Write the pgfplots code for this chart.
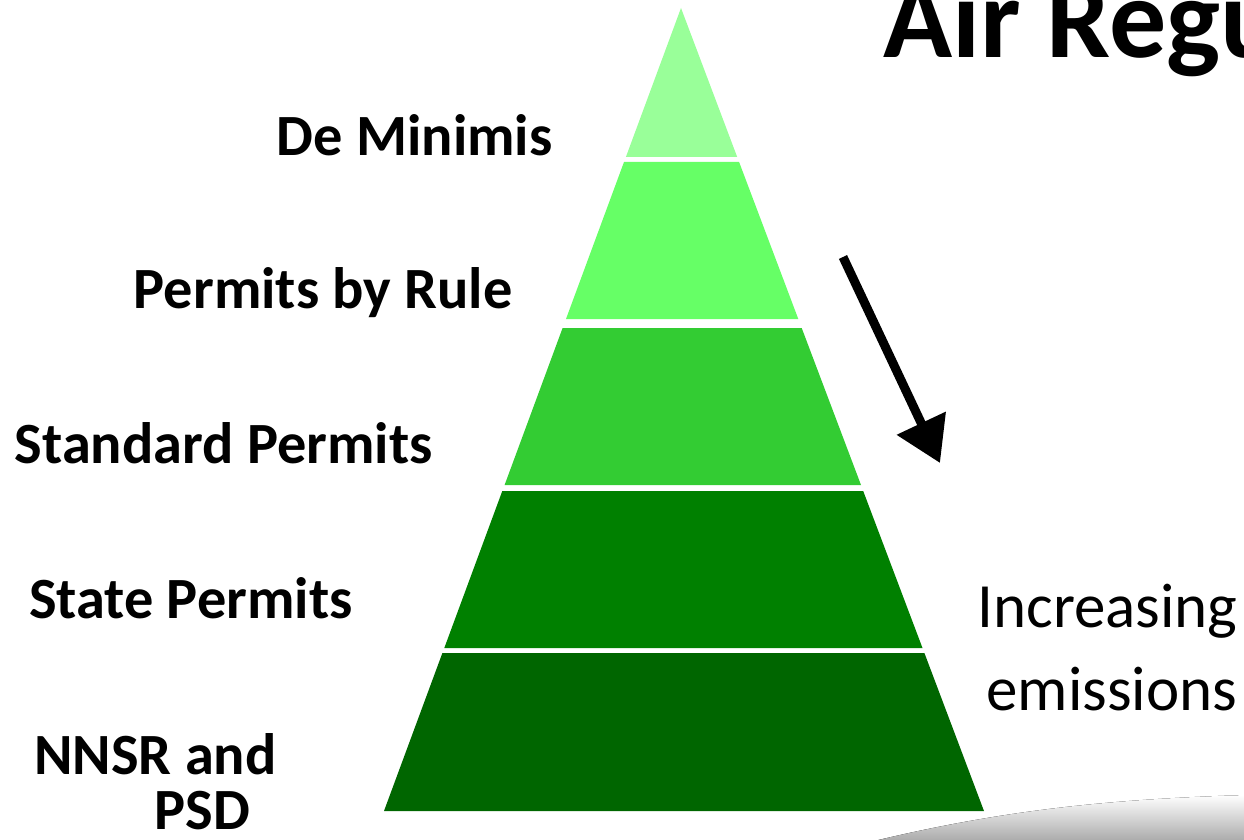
\documentclass[border=0pt]{standalone}
\usepackage{pgfplots}
\pgfplotsset{compat=1.18}
\usetikzlibrary{arrows.meta}
\usepackage{fontspec}
\setmainfont{Carlito}
\definecolor{b1}{HTML}{99FF99}
\definecolor{b2}{HTML}{66FF66}
\definecolor{b3}{HTML}{33CC33}
\definecolor{b4}{HTML}{008000}
\definecolor{b5}{HTML}{006600}
\begin{document}
\begin{tikzpicture}
\useasboundingbox (0,0) rectangle (622pt,420pt);
\clip (0,0) rectangle (622pt,420pt);
\begin{axis}[at={(0,0)}, anchor=south west, width=622pt, height=420pt, scale only axis,
  xmin=0, xmax=1244, ymin=0, ymax=840, y dir=reverse, hide axis, clip=false]
% gray swoosh bottom right
\fill[top color=white, bottom color=black!34, draw=none]
  (axis cs:870,842) .. controls (axis cs:1010,808) and (axis cs:1120,799) .. (axis cs:1246,795) -- (axis cs:1246,842) -- cycle;
% pyramid bands
\addplot[fill=b1, draw=none] coordinates {(681,8) (737.2,157) (625.9,157)} -- cycle;
\addplot[fill=b2, draw=none] coordinates {(624.0,162) (739.1,162) (798.3,319) (566.0,319)} -- cycle;
\addplot[fill=b3, draw=none] coordinates {(562.6,328) (801.7,328) (861.0,485) (504.6,485)} -- cycle;
\addplot[fill=b4, draw=none] coordinates {(502.3,491) (863.2,491) (922.5,648) (444.3,648)} -- cycle;
\addplot[fill=b5, draw=none] coordinates {(442.4,653) (924.4,653) (984,811) (384,811)} -- cycle;
% arrow
\addplot[black, line width=4.5pt, -{Triangle[length=22pt, width=26pt]}] coordinates {(843,257) (940,463)};
% labels
\begin{scope}[every node/.style={inner sep=0pt, font=\fontsize{29.2}{34}\selectfont\bfseries}]
\node[anchor=base east] at (axis cs:553,156) {De Minimis};
\node[anchor=base east] at (axis cs:513,308) {Permits by Rule};
\node[anchor=base east] at (axis cs:433,463) {Standard Permits};
\node[anchor=base east] at (axis cs:353,618) {State Permits};
\node[anchor=base west] at (axis cs:34,774) {NNSR and};
\node[anchor=base west] at (axis cs:154,829) {PSD};
\end{scope}
\node[anchor=base west, inner sep=0pt, font=\fontsize{31.5}{36}\selectfont] at (axis cs:977,627) {Increasing};
\node[anchor=base west, inner sep=0pt, font=\fontsize{31.5}{36}\selectfont] at (axis cs:986,710) {emissions};
\node[anchor=base west, inner sep=0pt, font=\fontsize{57}{66}\selectfont\bfseries] at (axis cs:883,58) {Air Regulation};
\end{axis}
\end{tikzpicture}
\end{document}
